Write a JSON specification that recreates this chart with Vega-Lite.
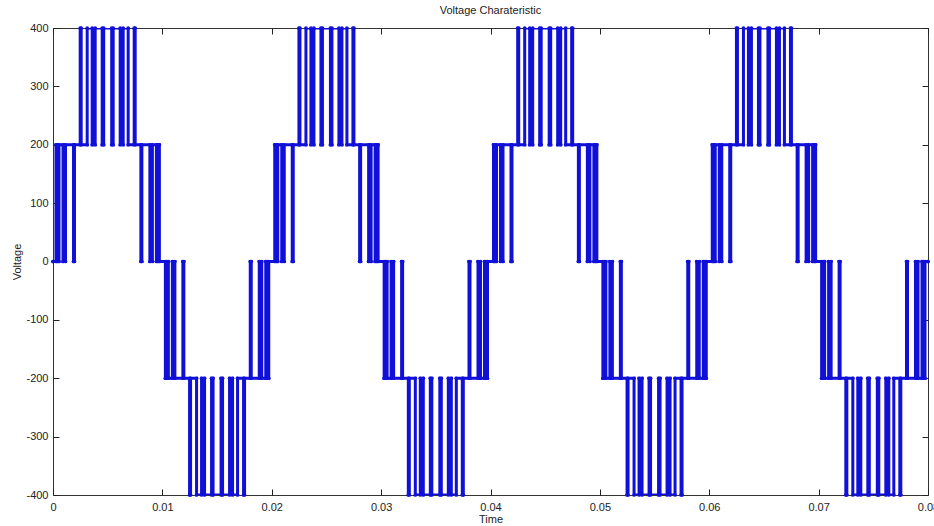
{
"$schema": "https://vega.github.io/schema/vega-lite/v6.json",
"width": 875, "height": 467,
"autosize": "none",
"padding": {"left": 53, "top": 28, "right": 6, "bottom": 31},
"background": "white",
"title": {"text": "Voltage Charateristic", "font": "Liberation Sans", "fontSize": 11, "fontWeight": "normal", "color": "#222", "offset": 6},
"config": {
 "view": {"stroke": "#333", "strokeWidth": 1},
 "axis": {"labelFont": "Liberation Sans", "labelFontSize": 11, "labelColor": "#222", "titleFont": "Liberation Sans", "titleFontSize": 11, "titleFontWeight": "normal", "titleColor": "#222", "grid": false, "domain": false, "ticks": true, "tickColor": "#222", "tickWidth": 1, "tickSize": -6, "labelFlush": false, "labelOverlap": false}
},
"data": {"values": [
{"t":0,"v":0,"p":0},
{"t":0.000274,"v":200,"p":0},{"t":0.000411,"v":0,"p":200},{"t":0.000548,"v":200,"p":0},{"t":0.000914,"v":0,"p":200},{"t":0.001143,"v":200,"p":0},{"t":0.001874,"v":0,"p":200},{"t":0.001965,"v":200,"p":0},
{"t":0.002486,"v":400,"p":200},{"t":0.002578,"v":200,"p":400},{"t":0.003126,"v":400,"p":200},{"t":0.003583,"v":200,"p":400},{"t":0.003857,"v":400,"p":200},{"t":0.004497,"v":200,"p":400},{"t":0.004634,"v":400,"p":200},{"t":0.005366,"v":200,"p":400},{"t":0.005503,"v":400,"p":200},{"t":0.006143,"v":200,"p":400},{"t":0.006417,"v":400,"p":200},{"t":0.006874,"v":200,"p":400},{"t":0.007422,"v":400,"p":200},{"t":0.007514,"v":200,"p":400},
{"t":0.008035,"v":0,"p":200},{"t":0.008126,"v":200,"p":0},{"t":0.008857,"v":0,"p":200},{"t":0.009086,"v":200,"p":0},{"t":0.009452,"v":0,"p":200},{"t":0.009589,"v":200,"p":0},{"t":0.009726,"v":0,"p":200},

{"t":0.010274,"v":-200,"p":0},{"t":0.010411,"v":0,"p":-200},{"t":0.010548,"v":-200,"p":0},{"t":0.010914,"v":0,"p":-200},{"t":0.011143,"v":-200,"p":0},{"t":0.011874,"v":0,"p":-200},{"t":0.011965,"v":-200,"p":0},
{"t":0.012486,"v":-400,"p":-200},{"t":0.012578,"v":-200,"p":-400},{"t":0.013126,"v":-400,"p":-200},{"t":0.013583,"v":-200,"p":-400},{"t":0.013857,"v":-400,"p":-200},{"t":0.014497,"v":-200,"p":-400},{"t":0.014634,"v":-400,"p":-200},{"t":0.015366,"v":-200,"p":-400},{"t":0.015503,"v":-400,"p":-200},{"t":0.016143,"v":-200,"p":-400},{"t":0.016417,"v":-400,"p":-200},{"t":0.016874,"v":-200,"p":-400},{"t":0.017422,"v":-400,"p":-200},{"t":0.017514,"v":-200,"p":-400},
{"t":0.018035,"v":0,"p":-200},{"t":0.018126,"v":-200,"p":0},{"t":0.018857,"v":0,"p":-200},{"t":0.019086,"v":-200,"p":0},{"t":0.019452,"v":0,"p":-200},{"t":0.019589,"v":-200,"p":0},{"t":0.019726,"v":0,"p":-200},

{"t":0.020274,"v":200,"p":0},{"t":0.020411,"v":0,"p":200},{"t":0.020548,"v":200,"p":0},{"t":0.020914,"v":0,"p":200},{"t":0.021143,"v":200,"p":0},{"t":0.021874,"v":0,"p":200},{"t":0.021965,"v":200,"p":0},
{"t":0.022486,"v":400,"p":200},{"t":0.022578,"v":200,"p":400},{"t":0.023126,"v":400,"p":200},{"t":0.023583,"v":200,"p":400},{"t":0.023857,"v":400,"p":200},{"t":0.024497,"v":200,"p":400},{"t":0.024634,"v":400,"p":200},{"t":0.025366,"v":200,"p":400},{"t":0.025503,"v":400,"p":200},{"t":0.026143,"v":200,"p":400},{"t":0.026417,"v":400,"p":200},{"t":0.026874,"v":200,"p":400},{"t":0.027422,"v":400,"p":200},{"t":0.027514,"v":200,"p":400},
{"t":0.028035,"v":0,"p":200},{"t":0.028126,"v":200,"p":0},{"t":0.028857,"v":0,"p":200},{"t":0.029086,"v":200,"p":0},{"t":0.029452,"v":0,"p":200},{"t":0.029589,"v":200,"p":0},{"t":0.029726,"v":0,"p":200},

{"t":0.030274,"v":-200,"p":0},{"t":0.030411,"v":0,"p":-200},{"t":0.030548,"v":-200,"p":0},{"t":0.030914,"v":0,"p":-200},{"t":0.031143,"v":-200,"p":0},{"t":0.031874,"v":0,"p":-200},{"t":0.031965,"v":-200,"p":0},
{"t":0.032486,"v":-400,"p":-200},{"t":0.032578,"v":-200,"p":-400},{"t":0.033126,"v":-400,"p":-200},{"t":0.033583,"v":-200,"p":-400},{"t":0.033857,"v":-400,"p":-200},{"t":0.034497,"v":-200,"p":-400},{"t":0.034634,"v":-400,"p":-200},{"t":0.035366,"v":-200,"p":-400},{"t":0.035503,"v":-400,"p":-200},{"t":0.036143,"v":-200,"p":-400},{"t":0.036417,"v":-400,"p":-200},{"t":0.036874,"v":-200,"p":-400},{"t":0.037422,"v":-400,"p":-200},{"t":0.037514,"v":-200,"p":-400},
{"t":0.038035,"v":0,"p":-200},{"t":0.038126,"v":-200,"p":0},{"t":0.038857,"v":0,"p":-200},{"t":0.039086,"v":-200,"p":0},{"t":0.039452,"v":0,"p":-200},{"t":0.039589,"v":-200,"p":0},{"t":0.039726,"v":0,"p":-200},

{"t":0.040274,"v":200,"p":0},{"t":0.040411,"v":0,"p":200},{"t":0.040548,"v":200,"p":0},{"t":0.040914,"v":0,"p":200},{"t":0.041143,"v":200,"p":0},{"t":0.041874,"v":0,"p":200},{"t":0.041965,"v":200,"p":0},
{"t":0.042486,"v":400,"p":200},{"t":0.042578,"v":200,"p":400},{"t":0.043126,"v":400,"p":200},{"t":0.043583,"v":200,"p":400},{"t":0.043857,"v":400,"p":200},{"t":0.044497,"v":200,"p":400},{"t":0.044634,"v":400,"p":200},{"t":0.045366,"v":200,"p":400},{"t":0.045503,"v":400,"p":200},{"t":0.046143,"v":200,"p":400},{"t":0.046417,"v":400,"p":200},{"t":0.046874,"v":200,"p":400},{"t":0.047422,"v":400,"p":200},{"t":0.047514,"v":200,"p":400},
{"t":0.048035,"v":0,"p":200},{"t":0.048126,"v":200,"p":0},{"t":0.048857,"v":0,"p":200},{"t":0.049086,"v":200,"p":0},{"t":0.049452,"v":0,"p":200},{"t":0.049589,"v":200,"p":0},{"t":0.049726,"v":0,"p":200},

{"t":0.050274,"v":-200,"p":0},{"t":0.050411,"v":0,"p":-200},{"t":0.050548,"v":-200,"p":0},{"t":0.050914,"v":0,"p":-200},{"t":0.051143,"v":-200,"p":0},{"t":0.051874,"v":0,"p":-200},{"t":0.051965,"v":-200,"p":0},
{"t":0.052486,"v":-400,"p":-200},{"t":0.052578,"v":-200,"p":-400},{"t":0.053126,"v":-400,"p":-200},{"t":0.053583,"v":-200,"p":-400},{"t":0.053857,"v":-400,"p":-200},{"t":0.054497,"v":-200,"p":-400},{"t":0.054634,"v":-400,"p":-200},{"t":0.055366,"v":-200,"p":-400},{"t":0.055503,"v":-400,"p":-200},{"t":0.056143,"v":-200,"p":-400},{"t":0.056417,"v":-400,"p":-200},{"t":0.056874,"v":-200,"p":-400},{"t":0.057422,"v":-400,"p":-200},{"t":0.057514,"v":-200,"p":-400},
{"t":0.058035,"v":0,"p":-200},{"t":0.058126,"v":-200,"p":0},{"t":0.058857,"v":0,"p":-200},{"t":0.059086,"v":-200,"p":0},{"t":0.059452,"v":0,"p":-200},{"t":0.059589,"v":-200,"p":0},{"t":0.059726,"v":0,"p":-200},

{"t":0.060274,"v":200,"p":0},{"t":0.060411,"v":0,"p":200},{"t":0.060548,"v":200,"p":0},{"t":0.060914,"v":0,"p":200},{"t":0.061143,"v":200,"p":0},{"t":0.061874,"v":0,"p":200},{"t":0.061965,"v":200,"p":0},
{"t":0.062486,"v":400,"p":200},{"t":0.062578,"v":200,"p":400},{"t":0.063126,"v":400,"p":200},{"t":0.063583,"v":200,"p":400},{"t":0.063857,"v":400,"p":200},{"t":0.064497,"v":200,"p":400},{"t":0.064634,"v":400,"p":200},{"t":0.065366,"v":200,"p":400},{"t":0.065503,"v":400,"p":200},{"t":0.066143,"v":200,"p":400},{"t":0.066417,"v":400,"p":200},{"t":0.066874,"v":200,"p":400},{"t":0.067422,"v":400,"p":200},{"t":0.067514,"v":200,"p":400},
{"t":0.068035,"v":0,"p":200},{"t":0.068126,"v":200,"p":0},{"t":0.068857,"v":0,"p":200},{"t":0.069086,"v":200,"p":0},{"t":0.069452,"v":0,"p":200},{"t":0.069589,"v":200,"p":0},{"t":0.069726,"v":0,"p":200},

{"t":0.070274,"v":-200,"p":0},{"t":0.070411,"v":0,"p":-200},{"t":0.070548,"v":-200,"p":0},{"t":0.070914,"v":0,"p":-200},{"t":0.071143,"v":-200,"p":0},{"t":0.071874,"v":0,"p":-200},{"t":0.071965,"v":-200,"p":0},
{"t":0.072486,"v":-400,"p":-200},{"t":0.072578,"v":-200,"p":-400},{"t":0.073126,"v":-400,"p":-200},{"t":0.073583,"v":-200,"p":-400},{"t":0.073857,"v":-400,"p":-200},{"t":0.074497,"v":-200,"p":-400},{"t":0.074634,"v":-400,"p":-200},{"t":0.075366,"v":-200,"p":-400},{"t":0.075503,"v":-400,"p":-200},{"t":0.076143,"v":-200,"p":-400},{"t":0.076417,"v":-400,"p":-200},{"t":0.076874,"v":-200,"p":-400},{"t":0.077422,"v":-400,"p":-200},{"t":0.077514,"v":-200,"p":-400},
{"t":0.078035,"v":0,"p":-200},{"t":0.078126,"v":-200,"p":0},{"t":0.078857,"v":0,"p":-200},{"t":0.079086,"v":-200,"p":0},{"t":0.079452,"v":0,"p":-200},{"t":0.079589,"v":-200,"p":0},{"t":0.079726,"v":0,"p":-200},
{"t":0.08,"v":0,"p":0}
]},
"layer": [
 {"mark": {"type": "line", "interpolate": "step-after", "color": "#1010d8", "strokeWidth": 3, "clip": true},
  "encoding": {
   "x": {"field": "t", "type": "quantitative", "scale": {"domain": [0, 0.08], "nice": false, "zero": false},
         "axis": {"orient": "bottom", "values": [0,0.01,0.02,0.03,0.04,0.05,0.06,0.07,0.08], "format": ".2~f", "labelPadding": 12, "title": "Time", "titlePadding": 1}},
   "y": {"field": "v", "type": "quantitative", "scale": {"domain": [-400, 400], "nice": false},
         "axis": {"orient": "left", "values": [-400,-300,-200,-100,0,100,200,300,400], "labelExpr": "'' + datum.value", "labelPadding": 11, "title": "Voltage", "titlePadding": 3}}
  }},
 {"mark": {"type": "point", "filled": true, "size": 14, "color": "#1010d8", "opacity": 1},
  "encoding": {
   "x": {"field": "t", "type": "quantitative", "axis": {"orient": "top", "values": [0,0.01,0.02,0.03,0.04,0.05,0.06,0.07,0.08], "labels": false, "title": null}},
   "y": {"field": "v", "type": "quantitative", "axis": {"orient": "right", "values": [-400,-300,-200,-100,0,100,200,300,400], "labels": false, "title": null}}
  }},
 {"mark": {"type": "point", "filled": true, "size": 14, "color": "#1010d8", "opacity": 1},
  "encoding": {
   "x": {"field": "t", "type": "quantitative", "axis": null},
   "y": {"field": "p", "type": "quantitative", "axis": null}
  }}
],
"resolve": {"axis": {"x": "independent", "y": "independent"}}
}
